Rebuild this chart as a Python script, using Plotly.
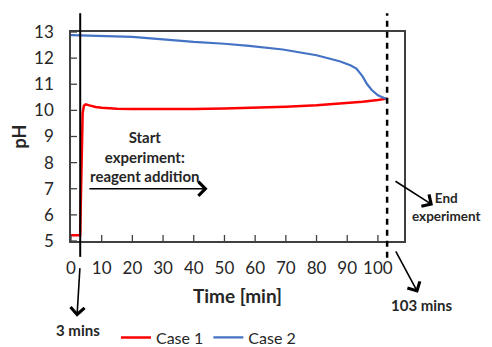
import plotly.graph_objects as go

# Case 1 (red) - pH vs time
t_case1 = [0, 1, 2, 3, 3.2, 3.5, 3.8, 4.2, 4.8, 6, 8, 10, 15, 20, 30, 40, 50,
           60, 70, 80, 90, 95, 100, 103]
ph_case1 = [5.22, 5.22, 5.22, 5.22, 6.5, 8.8, 9.9, 10.18, 10.23, 10.19, 10.13,
            10.1, 10.06, 10.05, 10.04, 10.05, 10.07, 10.1, 10.14, 10.2, 10.28,
            10.33, 10.4, 10.45]

# Case 2 (blue)
t_case2 = [0, 10, 20, 30, 40, 50, 58, 69, 80, 87.5, 91, 93, 95, 96.5, 98, 100,
           102, 103]
ph_case2 = [12.88, 12.85, 12.81, 12.72, 12.62, 12.55, 12.47, 12.33, 12.11,
            11.88, 11.73, 11.6, 11.3, 11.0, 10.78, 10.58, 10.47, 10.43]

x_ticks = [0, 10, 20, 30, 40, 50, 60, 70, 80, 90, 100]
y_ticks = [5, 6, 7, 8, 9, 10, 11, 12, 13]

start_time = 3
end_time = 103

FONT = "Lato"
TXT = "#262626"

fig = go.Figure()
fig.add_trace(go.Scatter(x=t_case1, y=ph_case1, mode="lines", name="Case 1",
                         line=dict(color="#FF0000", width=2.5)))
fig.add_trace(go.Scatter(x=t_case2, y=ph_case2, mode="lines", name="Case 2",
                         line=dict(color="#4472C4", width=2.2)))

# inside tick marks (the axis' own ticks are hidden to push the labels away)
for t in x_ticks:
    fig.add_shape(type="line", xref="x", yref="paper", ysizemode="pixel", yanchor=0,
                  x0=t, x1=t, y0=0, y1=6, line=dict(color="#404040", width=1.3))
for v in y_ticks:
    fig.add_shape(type="line", xref="paper", yref="y", xsizemode="pixel", xanchor=0,
                  x0=0, x1=6, y0=v, y1=v, line=dict(color="#404040", width=1.3))

# start / end lines sticking out of the plot area
fig.add_shape(type="line", xref="x", yref="paper", x0=start_time, x1=start_time,
              y0=-0.076, y1=1.09, line=dict(color="black", width=2))
fig.add_shape(type="line", xref="x", yref="paper", x0=end_time, x1=end_time,
              y0=-0.08, y1=1.09, line=dict(color="black", width=2.5, dash="6px,5px"))

arrow = dict(showarrow=True, arrowhead=4, arrowsize=1.7, arrowwidth=1.6,
             arrowcolor="black", text="")


def label(txt, x, y, size=15):
    return dict(x=x, y=y, xref="paper", yref="paper", showarrow=False,
                xanchor="center", yanchor="middle", text=txt,
                font=dict(family=FONT, size=size, color=TXT))


ann = [
    # reagent addition arrow
    dict(x=44.5, y=7, xref="x", yref="y", ax=5.5, ay=7, axref="x", ayref="y", **arrow),
    dict(x=1.087, y=0.171, xref="paper", yref="paper", ax=-39, ay=-25, **arrow),
    dict(x=1.042, y=-0.248, xref="paper", yref="paper", ax=-23, ay=-43, **arrow),
    dict(x=0.018, y=-0.362, xref="paper", yref="paper", ax=3, ay=-50, **arrow),
    label("<b>Start<br>experiment:<br>reagent addition</b>", 0.222, 0.405),
    label("<b>End<br>experiment</b>", 1.128, 0.163, 13.5),
    label("<b>103 mins</b>", 1.054, -0.306),
    label("<b>3 mins</b>", 0.021, -0.426),
]

fig.update_layout(
    width=484, height=339,
    margin=dict(l=63, r=88, t=24, b=106, autoexpand=False),
    paper_bgcolor="white", plot_bgcolor="white",
    font=dict(family=FONT, size=17, color=TXT),
    annotations=ann,
    legend=dict(orientation="h", x=0.135, y=-0.462, xanchor="left", yanchor="middle",
                font=dict(size=16), itemwidth=30, tracegroupgap=0),
    xaxis=dict(range=[0, 108.5], tickvals=x_ticks, ticks="outside", ticklen=11,
               tickcolor="rgba(0,0,0,0)", showline=True, linecolor="#404040",
               linewidth=1.5, mirror=True, showgrid=False, zeroline=False,
               automargin=False,
               title=dict(text="<b>Time [min]</b>", font=dict(size=19), standoff=13)),
    yaxis=dict(range=[5, 13], tickvals=y_ticks, ticks="outside", ticklen=12,
               tickcolor="rgba(0,0,0,0)", showline=True, linecolor="#404040",
               linewidth=1.5, mirror=True, showgrid=False, zeroline=False,
               automargin=False,
               title=dict(text="<b>pH</b>", font=dict(size=18), standoff=10)),
)

fig.write_html("out.html")
